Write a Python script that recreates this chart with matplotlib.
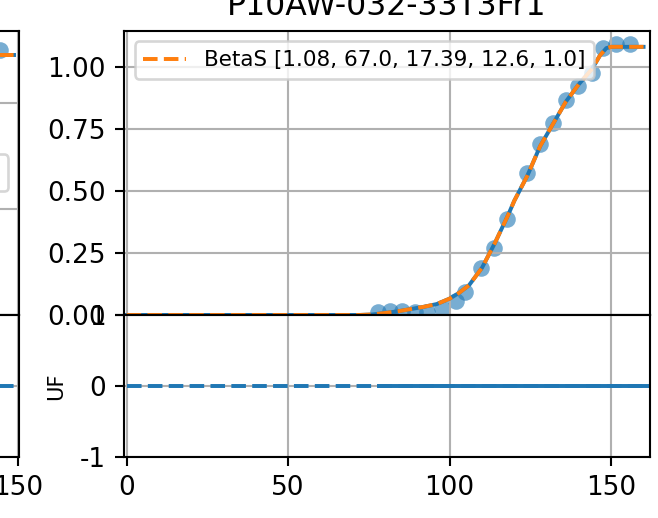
import matplotlib
matplotlib.use("Agg")
import matplotlib.pyplot as plt

plt.rcParams['axes.unicode_minus'] = False

# ---- data ----
title = "P10AW-032-33T3Fr1"
fit_label = "BetaS [1.08, 67.0, 17.39, 12.6, 1.0]"

pts_x = [77.8, 81.5, 85.2, 89.2, 93.0, 97.6, 101.9, 104.7, 109.8, 113.7,
         117.7, 124.0, 128.0, 131.9, 136.0, 139.7, 144.0, 147.4, 151.4, 155.7]
pts_y = [0.012, 0.016, 0.016, 0.012, 0.014, 0.027, 0.056, 0.092, 0.188, 0.269,
         0.386, 0.571, 0.688, 0.773, 0.866, 0.922, 0.975, 1.075, 1.091, 1.091]

fit_x = [0, 60, 72, 76, 80, 84, 88, 92, 96, 100, 103, 106, 110, 114, 118,
         120, 124, 128, 132, 136, 140, 144, 146.5, 148.5, 150, 155, 160]
fit_y = [0, 0, 0, 0.002, 0.008, 0.015, 0.024, 0.033, 0.044, 0.066, 0.09, 0.12,
         0.19, 0.29, 0.40, 0.46, 0.56, 0.68, 0.77, 0.86, 0.93, 0.99, 1.045,
         1.075, 1.08, 1.08, 1.08]

uf_x = [78, 162]
uf_y = [0.0, 0.0]
zero_x = [0, 162]
zero_y = [0, 0]

x_ticks = [0, 50, 100, 150]
top_yticks = [0, 0.25, 0.5, 0.75, 1.0]
bot_yticks = [-1, 0, 1]

# neighbouring panel (only its right edge is visible)
left_pts_x = [140.5, 144.5]
left_pts_y = [1.24, 1.25]
left_fit_x = [138, 148.7]
left_fit_y = [1.226, 1.226]
left_zero_x = [0, 148.7]
left_zero_y = [0, 0]
left_label = "BetaS [1.23, 60.0, 15.0, 12.0, 1.0]"

W, H = 658, 518
DPI = 189
fig = plt.figure(figsize=(W / DPI, H / DPI), dpi=DPI)

def rect(l, t, r, b):
    return [l / W, 1 - b / H, (r - l) / W, (b - t) / H]

top_px, mid_px, bot_px = 30.7, 315, 457
ax1 = fig.add_axes(rect(124, top_px, 650, mid_px))
ax2 = fig.add_axes(rect(124, mid_px, 650, bot_px), sharex=ax1)

ax1.scatter(pts_x, pts_y, color='C0', alpha=0.6, s=40, linewidths=0)
ax1.plot(fit_x, fit_y, color='C0', lw=1.5)
ax1.plot(fit_x, fit_y, '--', color='C1', lw=1.5, label=fit_label)
ax1.set_ylim(0, 1.145)
ax1.set_yticks(top_yticks)
ax1.grid(True)
ax1.legend(loc='upper left', fontsize=8.2)
ax1.tick_params(labelbottom=False)
ax1.set_title(title)

ax2.plot(zero_x, zero_y, '--', color='C0')
ax2.plot(uf_x, uf_y, color='C0')
ax2.set_ylim(-1, 1)
ax2.set_yticks(bot_yticks)
ax2.set_xticks(x_ticks)
ax2.set_xlim(-0.8, 162)
ax2.set_ylabel('UF', fontsize=8)
ax2.yaxis.set_label_coords(-0.110, 0.5)
ax2.grid(True)

# left neighbouring panel
axL1 = fig.add_axes(rect(19 - 526, top_px, 19, mid_px))
axL2 = fig.add_axes(rect(19 - 526, mid_px, 19, bot_px), sharex=axL1)
axL1.scatter(left_pts_x, left_pts_y, color='C0', alpha=0.6, s=40, linewidths=0)
axL1.plot(left_fit_x, left_fit_y, color='C0')
axL1.plot(left_fit_x, left_fit_y, '--', color='C1', label=left_label)
axL1.set_ylim(0, 1.341)
axL1.set_yticks([0, 0.5, 1.0])
axL1.grid(True)
axL1.legend(loc='center right', fontsize=8.2)
axL1.tick_params(labelbottom=False)
axL2.plot(left_zero_x, left_zero_y, '--', color='C0')
axL2.set_ylim(-1, 1)
axL2.set_yticks(bot_yticks)
axL2.set_xticks(x_ticks)
axL2.set_xlim(-8, 150.2)
axL2.grid(True)

fig.savefig('out.png', dpi=DPI)
